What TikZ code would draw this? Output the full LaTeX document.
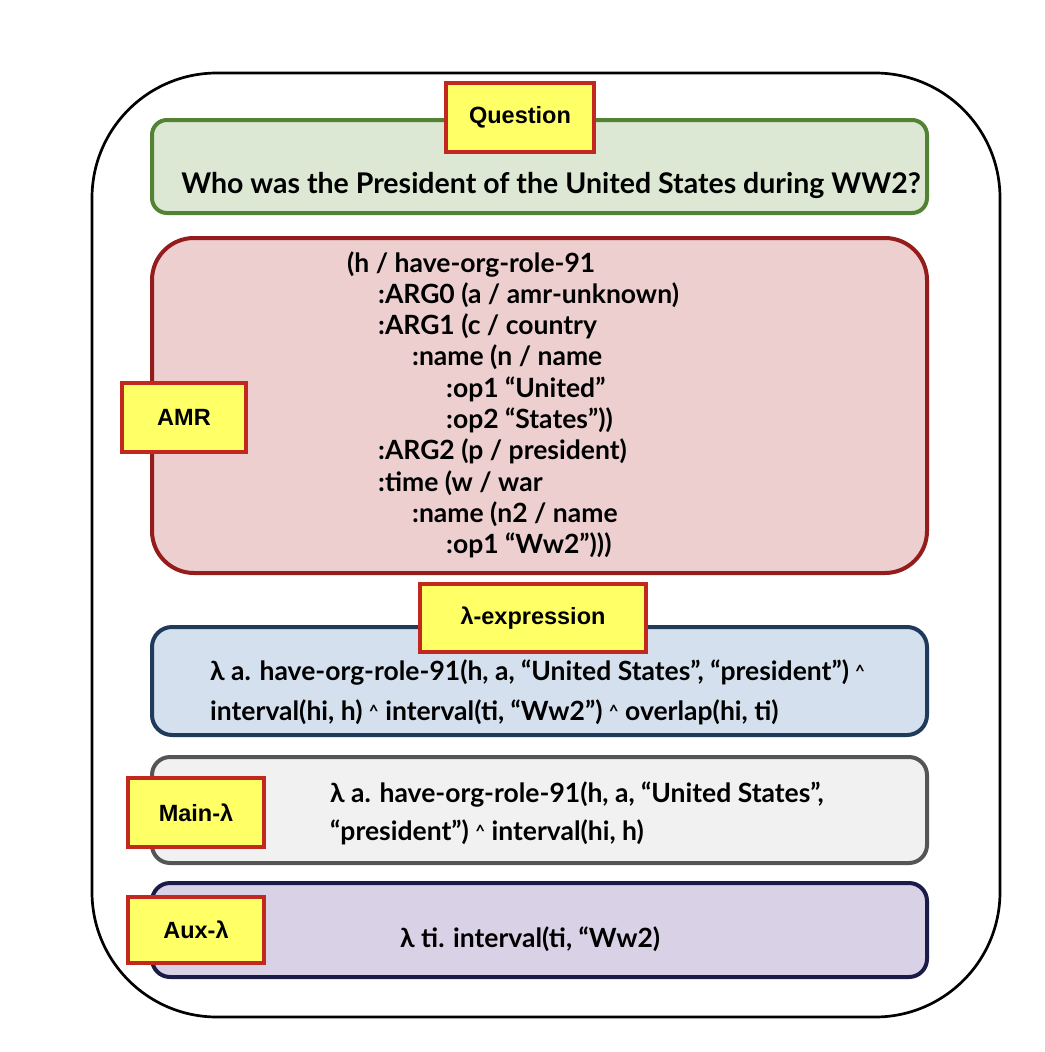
\documentclass[tikz,border=0pt]{standalone}
\usepackage{fontspec}
\setmainfont{Lato}
\newfontfamily\labelfont{Liberation Sans}
\definecolor{qborder}{HTML}{548235}
\definecolor{qfill}{HTML}{DCE8D4}
\definecolor{aborder}{HTML}{951C1C}
\definecolor{afill}{HTML}{EDCFCF}
\definecolor{lborder}{HTML}{1F3A5A}
\definecolor{lfill}{HTML}{D4E0EE}
\definecolor{mborder}{HTML}{555555}
\definecolor{mfill}{HTML}{F1F1F1}
\definecolor{xborder}{HTML}{1B1B48}
\definecolor{xfill}{HTML}{D9D2E7}
\definecolor{tagfill}{HTML}{FFFF66}
\definecolor{tagborder}{HTML}{C3281F}
\newcommand{\andsym}{{\fontsize{17}{17}\selectfont\raisebox{3pt}{\textasciicircum}}}
\tikzset{
  panel/.style={draw, line width=4pt, minimum width=775pt, inner sep=0pt},
  tagbox/.style={draw=tagborder, fill=tagfill, line width=4pt, inner sep=0pt,
    font=\labelfont\bfseries\fontsize{23.5}{27}\selectfont, text=black},
  body/.style={font=\bfseries\fontsize{26.5}{31.3}\selectfont, text=black, inner sep=0pt}
}
\begin{document}
\begin{tikzpicture}[x=1pt,y=-1pt]
\useasboundingbox (0,0) rectangle (1044,1052);
\node[draw, line width=2.7pt, rounded corners=125pt, minimum width=908pt, minimum height=944pt, inner sep=0pt] (frame) at (546,545) {};
% Question
\node[panel, draw=qborder, fill=qfill, rounded corners=15pt, minimum height=93pt] (qbox) at (539.5,166.5) {};
\node[tagbox, minimum width=148pt, minimum height=69pt] (qtag) at (520,117.5) {Question};
\node[body, font=\bfseries\fontsize{28.5}{31}\selectfont, anchor=base] (qtext) at (551,193) {Who was the President of the United States during WW2?};
% AMR
\node[panel, draw=aborder, fill=afill, rounded corners=42pt, minimum height=335pt] (abox) at (539.5,405.5) {};
\node[tagbox, minimum width=124pt, minimum height=69pt] (atag) at (184,417.5) {AMR};
\node[body, anchor=north west, align=left] (atext) at (347,251) {(h / have-org-role-91\\
\hspace*{31pt}:ARG0 (a / amr-unknown)\\
\hspace*{31pt}:ARG1 (c / country\\
\hspace*{65pt}:name (n / name\\
\hspace*{99pt}:op1 “United”\\
\hspace*{99pt}:op2 “States”))\\
\hspace*{31pt}:ARG2 (p / president)\\
\hspace*{31pt}:time (w / war\\
\hspace*{65pt}:name (n2 / name\\
\hspace*{99pt}:op1 “Ww2”)))};
% lambda expression
\node[panel, draw=lborder, fill=lfill, rounded corners=20pt, minimum height=108pt] (lbox) at (539.5,681) {};
\node[tagbox, minimum width=226pt, minimum height=68pt] (ltag) at (533,618) {λ-expression};
\node[body, anchor=north west, align=left, font=\bfseries\fontsize{26.5}{40}\selectfont] (ltext) at (210,659) {λ a. have-org-role-91(h, a, “United States”, “president”) \andsym\\
interval(hi, h) \andsym{} interval(ti, “Ww2”) \andsym{} overlap(hi, ti)};
% main lambda
\node[panel, draw=mborder, fill=mfill, rounded corners=18pt, minimum height=106pt] (mbox) at (539.5,810) {};
\node[tagbox, minimum width=136pt, minimum height=69pt] (mtag) at (196,812.5) {Main-λ};
\node[body, anchor=north west, align=left, font=\bfseries\fontsize{26.5}{38}\selectfont] (mtext) at (330,781) {λ a. have-org-role-91(h, a, “United States”,\\
“president”) \andsym{} interval(hi, h)};
% aux lambda
\node[panel, draw=xborder, fill=xfill, rounded corners=18pt, minimum height=94pt] (xbox) at (539.5,930) {};
\node[tagbox, minimum width=136pt, minimum height=66pt] (xtag) at (196,930) {Aux-λ};
\node[body, anchor=base west] (xtext) at (400,947) {λ ti. interval(ti, “Ww2)};
\end{tikzpicture}
\end{document}
